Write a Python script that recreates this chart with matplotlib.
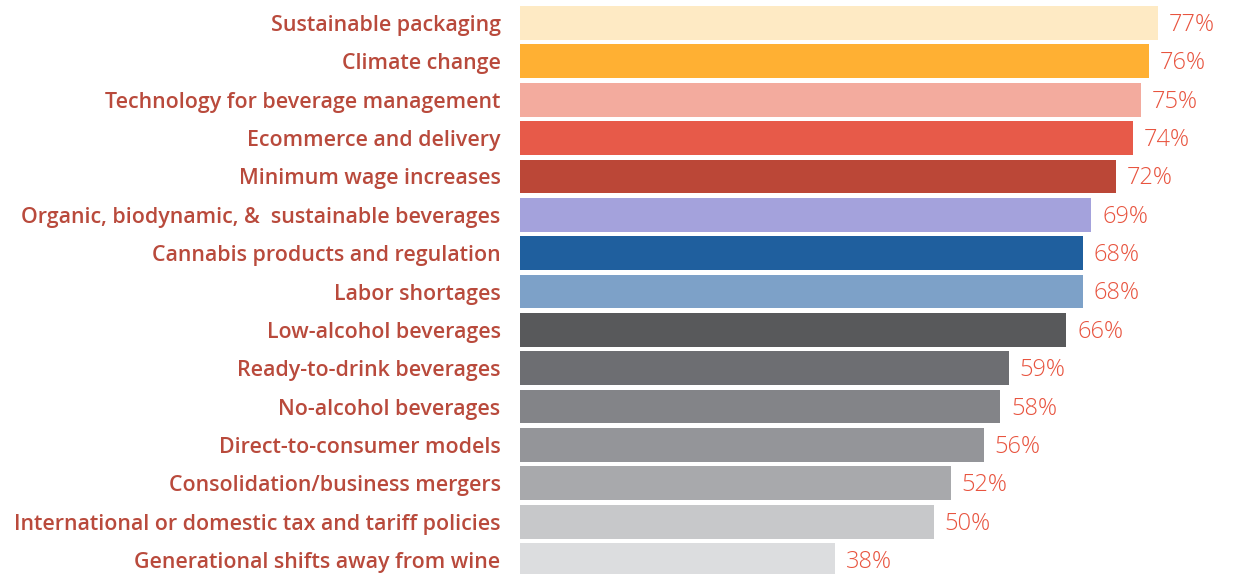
import matplotlib.pyplot as plt

topics = [
    "Sustainable packaging",
    "Climate change",
    "Technology for beverage management",
    "Ecommerce and delivery",
    "Minimum wage increases",
    "Organic, biodynamic, &  sustainable beverages",
    "Cannabis products and regulation",
    "Labor shortages",
    "Low-alcohol beverages",
    "Ready-to-drink beverages",
    "No-alcohol beverages",
    "Direct-to-consumer models",
    "Consolidation/business mergers",
    "International or domestic tax and tariff policies",
    "Generational shifts away from wine",
]
shares = [77, 76, 75, 74, 72, 69, 68, 68, 66, 59, 58, 56, 52, 50, 38]
bar_colors = [
    "#feeac4", "#ffb033", "#f3ab9e", "#e75a49", "#bb4737",
    "#a4a2dc", "#1f5f9e", "#7da1c8", "#58595b", "#6d6e72",
    "#838488", "#949599", "#a8a9ac", "#c7c8ca", "#dcdddf",
]

W, H = 1235, 574
fig = plt.figure(figsize=(W / 100, H / 100), dpi=100)
x0 = 520
px_per_pct = 8.28
ax = fig.add_axes([x0 / W, 0, 1 - x0 / W, 1])

pos = list(range(len(topics)))
ax.barh(pos, shares, height=0.88, color=bar_colors)

pitch = 38.36
ax.set_ylim((H - 23) / pitch, -23 / pitch)
ax.set_xlim(0, (W - x0) / px_per_pct)

ax.set_yticks(pos)
ax.set_yticklabels(topics, fontfamily="Open Sans", fontweight="semibold",
                   fontsize=15.4, color="#b94a3c")
ax.tick_params(axis="y", length=0, pad=14)
ax.set_xticks([])
for s in ax.spines.values():
    s.set_visible(False)

for p, v in zip(pos, shares):
    ax.text(v + 1.3, p + 0.05, f"{v}%", va="center", ha="left", fontsize=17,
            fontfamily="Open Sans", fontweight="light", color="#e8543f")

fig.savefig("out.png", dpi=100)
